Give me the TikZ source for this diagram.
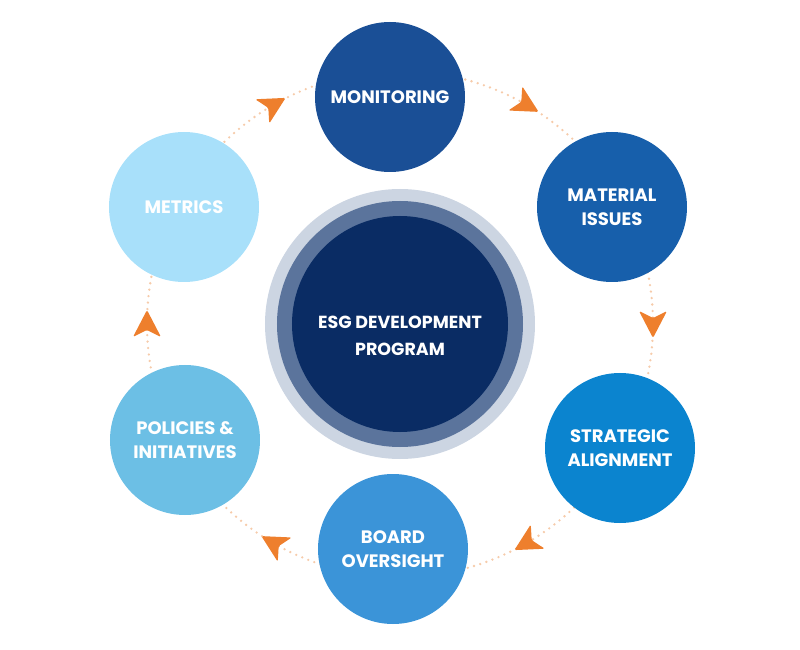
\documentclass[tikz,border=0pt]{standalone}
\usepackage{fontspec}
\setmainfont{Poppins}
\definecolor{coreblue}{HTML}{0A2C64}
\definecolor{ringmid}{HTML}{5B749C}
\definecolor{ringout}{HTML}{CCD5E2}
\definecolor{cmon}{HTML}{1A4F96}
\definecolor{cmat}{HTML}{175FAB}
\definecolor{cstr}{HTML}{0B84CF}
\definecolor{cboa}{HTML}{3B94D8}
\definecolor{cpol}{HTML}{6CBFE5}
\definecolor{cmet}{HTML}{A8E0FA}
\definecolor{arroworange}{HTML}{EE7F2D}
\definecolor{dotcol}{HTML}{F6CBAA}
\begin{document}
\begin{tikzpicture}[x=1pt,y=1pt,
  lbl/.style={text=white, font=\bfseries\fontsize{18}{24}\selectfont, align=center},
  sat/.style={circle, minimum size=150pt, inner sep=0pt, lbl},
  orhead/.pic={\fill[arroworange, rounded corners=1.5pt] (14,0) -- (-13,14) -- (-6,0) -- (-13,-14) -- cycle;}
]
\useasboundingbox (-400,-326) rectangle (400,324);
% dotted cycle path
\draw[dotcol, line width=2.6pt, line cap=round, dash pattern=on 0pt off 6.5pt] (0,0) circle (253);
\foreach \a in {120,60,0,-60,-120,180}
  \pic[rotate=\a-90] at (\a:253) {orhead};
% centre
\node[circle, fill=ringout, minimum size=270pt, inner sep=0pt] (outer) at (0,0) {};
\node[circle, fill=ringmid, minimum size=246pt, inner sep=0pt] (mid) at (0,0) {};
\node[circle, fill=coreblue, minimum size=216pt, inner sep=0pt] (core) at (0,0) {};
\node[lbl, font=\bfseries\fontsize{17.5}{27}\selectfont] (coretext) at (0,-12) {ESG DEVELOPMENT\\PROGRAM};
% satellites
\node[sat, fill=cmon] (mon) at (-10,227) {MONITORING};
\node[sat, fill=cmat] (mat) at (212,117) {MATERIAL\\ISSUES};
\node[sat, fill=cstr] (str) at (220,-124) {STRATEGIC\\ALIGNMENT};
\node[sat, fill=cboa] (boa) at (-7,-225) {BOARD\\OVERSIGHT};
\node[sat, fill=cpol] (pol) at (-215,-116) {POLICIES \&\\INITIATIVES};
\node[sat, fill=cmet] (met) at (-216,117) {METRICS};
\end{tikzpicture}
\end{document}
